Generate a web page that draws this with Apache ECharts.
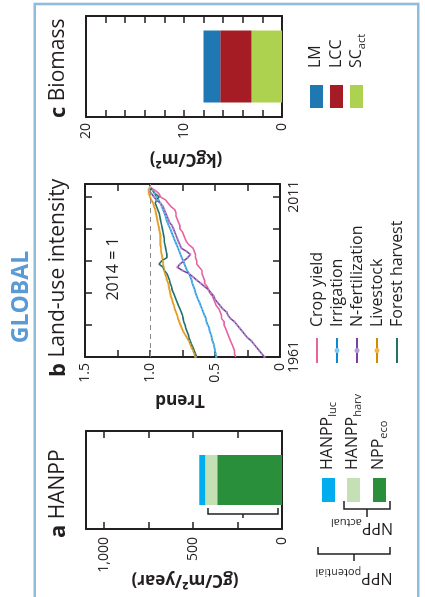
<!DOCTYPE html>
<html lang="en">
<head>
<meta charset="utf-8">
<script src="https://cdn.jsdelivr.net/npm/echarts@6/dist/echarts.min.js"></script>
<style>
    html, body { margin: 0; padding: 0; background: #fff; }
    body { width: 425px; height: 597px; overflow: hidden; position: relative; }
    /* the figure is laid out upright (597 x 425) and then turned a quarter to the left */
    #wrap {
        position: absolute; left: 0; top: 0;
        width: 597px; height: 425px;
        transform-origin: 0 0;
        transform: translate(0, 597px) rotate(-90deg);
    }
</style>
</head>
<body>
<div id="wrap"></div>
<script>
    // ---- panel a: HANPP (gC/m2/year)
    var hanppCats = ['Global'];
    var nppEco = [364];
    var hanppHarv = [67];
    var hanppLuc = [34];
    var hanppTickVals = [0, 500, 1000];
    var hanppTickText = ['0', '500', '1,000'];

    // ---- panel b: land-use intensity trend, 2014 = 1
    var years = [1961, 1962, 1963, 1964, 1965, 1966, 1967, 1968, 1969, 1970,
        1971, 1972, 1973, 1974, 1975, 1976, 1977, 1978, 1979, 1980,
        1981, 1982, 1983, 1984, 1985, 1986, 1987, 1988, 1989, 1990,
        1991, 1992, 1993, 1994, 1995, 1996, 1997, 1998, 1999, 2000,
        2001, 2002, 2003, 2004, 2005, 2006, 2007, 2008, 2009, 2010,
        2011, 2012, 2013, 2014];
    var cropYield = [0.34, 0.35, 0.35, 0.36, 0.37, 0.38, 0.39, 0.40, 0.41, 0.42,
        0.43, 0.43, 0.45, 0.45, 0.46, 0.47, 0.49, 0.50, 0.51, 0.52,
        0.54, 0.55, 0.56, 0.58, 0.58, 0.59, 0.60, 0.60, 0.62, 0.64,
        0.64, 0.65, 0.65, 0.66, 0.67, 0.70, 0.72, 0.73, 0.74, 0.75,
        0.77, 0.77, 0.78, 0.79, 0.80, 0.80, 0.81, 0.84, 0.86, 0.88,
        0.92, 0.93, 0.96, 1.00];
    var irrigation = [0.49, 0.495, 0.50, 0.505, 0.51, 0.52, 0.525, 0.53, 0.54, 0.545,
        0.555, 0.565, 0.57, 0.58, 0.59, 0.60, 0.61, 0.62, 0.63, 0.64,
        0.65, 0.655, 0.665, 0.675, 0.68, 0.69, 0.70, 0.715, 0.725, 0.735,
        0.745, 0.755, 0.765, 0.775, 0.785, 0.795, 0.805, 0.815, 0.825, 0.835,
        0.845, 0.855, 0.865, 0.875, 0.88, 0.89, 0.90, 0.91, 0.92, 0.935,
        0.95, 0.965, 0.98, 1.00];
    var nFertilization = [0.12, 0.14, 0.16, 0.18, 0.20, 0.22, 0.25, 0.27, 0.29, 0.31,
        0.33, 0.35, 0.38, 0.40, 0.41, 0.44, 0.46, 0.48, 0.50, 0.51,
        0.53, 0.55, 0.58, 0.61, 0.64, 0.67, 0.70, 0.75, 0.79, 0.77,
        0.74, 0.71, 0.69, 0.72, 0.76, 0.77, 0.78, 0.79, 0.80, 0.81,
        0.82, 0.83, 0.85, 0.86, 0.87, 0.88, 0.89, 0.90, 0.92, 0.95,
        0.97, 0.99, 1.01, 1.00];
    var livestock = [0.65, 0.66, 0.67, 0.68, 0.69, 0.70, 0.715, 0.73, 0.745, 0.755,
        0.765, 0.775, 0.785, 0.79, 0.80, 0.81, 0.815, 0.825, 0.83, 0.84,
        0.845, 0.85, 0.855, 0.86, 0.87, 0.875, 0.885, 0.89, 0.895, 0.90,
        0.90, 0.905, 0.91, 0.915, 0.915, 0.92, 0.92, 0.92, 0.92, 0.925,
        0.93, 0.935, 0.94, 0.945, 0.95, 0.955, 0.96, 0.97, 0.975, 0.99,
        1.00, 1.01, 1.01, 1.00];
    var forestHarvest = [0.64, 0.65, 0.66, 0.67, 0.68, 0.69, 0.70, 0.705, 0.715, 0.725,
        0.73, 0.74, 0.745, 0.75, 0.76, 0.77, 0.78, 0.79, 0.80, 0.81,
        0.82, 0.83, 0.835, 0.845, 0.85, 0.86, 0.87, 0.89, 0.90, 0.93,
        0.91, 0.87, 0.87, 0.875, 0.88, 0.885, 0.89, 0.89, 0.895, 0.90,
        0.905, 0.91, 0.915, 0.92, 0.925, 0.93, 0.94, 0.95, 0.96, 0.95,
        0.93, 0.96, 0.98, 1.00];
    var yearTickLabels = [1961, 2011];

    // ---- panel c: biomass (kgC/m2)
    var biomassCats = ['Global'];
    var scAct = [3.1];
    var lcc = [3.2];
    var lm = [1.7];
    var biomassTickVals = [0, 10, 20];

    var FONT = "'Open Sans', 'DejaVu Sans', sans-serif";
    var INK = '#231f20';

    function pairs(ys) {
        return years.map(function (y, i) { return [y, ys[i]]; });
    }
    function edge() {
        return { show: true, onZero: false, lineStyle: { color: INK, width: 2 } };
    }
    function ticksIn(show) {
        return { show: show, inside: true, length: 7, lineStyle: { color: INK, width: 1.5 } };
    }
    function tickLabel(fmt, margin) {
        return { show: !!fmt, formatter: fmt, margin: margin, color: INK, fontSize: 14,
            fontFamily: FONT, showMinLabel: true, showMaxLabel: true };
    }
    function catAxis(grid, pos, cats) {
        return { type: 'category', gridIndex: grid, position: pos, data: cats,
            axisLine: edge(), axisTick: { show: false }, axisLabel: { show: false } };
    }

    var myChart = echarts.init(document.getElementById('wrap'));

    var lineDefs = [
        { name: 'Crop yield', data: cropYield, color: '#e8629f', dot: null },
        { name: 'Irrigation', data: irrigation, color: '#1386d0', dot: '#7ccbf1' },
        { name: 'N-fertilization', data: nFertilization, color: '#7b3fa1', dot: '#b79bd3' },
        { name: 'Livestock', data: livestock, color: '#d68a00', dot: '#f2b54c' },
        { name: 'Forest harvest', data: forestHarvest, color: '#24716c', dot: null }
    ];

    var series = [
        { name: 'NPPeco', type: 'bar', stack: 'a', xAxisIndex: 0, yAxisIndex: 0, barWidth: 50,
            data: nppEco, itemStyle: { color: '#298f3a' }, silent: true },
        { name: 'HANPPharv', type: 'bar', stack: 'a', xAxisIndex: 0, yAxisIndex: 0, barWidth: 50,
            data: hanppHarv, itemStyle: { color: '#c5e0b4' }, silent: true },
        { name: 'HANPPluc', type: 'bar', stack: 'a', xAxisIndex: 0, yAxisIndex: 0, barWidth: 50,
            data: hanppLuc, itemStyle: { color: '#00aeef' }, silent: true },
        { name: 'SCact', type: 'bar', stack: 'c', xAxisIndex: 4, yAxisIndex: 4, barWidth: 72,
            data: scAct, itemStyle: { color: '#add24f' }, silent: true },
        { name: 'LCC', type: 'bar', stack: 'c', xAxisIndex: 4, yAxisIndex: 4, barWidth: 72,
            data: lcc, itemStyle: { color: '#a51c24' }, silent: true },
        { name: 'LM', type: 'bar', stack: 'c', xAxisIndex: 4, yAxisIndex: 4, barWidth: 72,
            data: lm, itemStyle: { color: '#1f78b4' }, silent: true }
    ];
    lineDefs.forEach(function (d, i) {
        series.push({
            name: d.name, type: 'line', xAxisIndex: 2, yAxisIndex: 2,
            data: pairs(d.data),
            showSymbol: !!d.dot, symbol: 'circle', symbolSize: 2.5,
            itemStyle: { color: d.dot || d.color, opacity: 0.7 },
            lineStyle: { color: d.color, width: 1.6 },
            silent: true,
            markLine: i === 0 ? {
                silent: true, symbol: 'none', label: { show: false },
                lineStyle: { color: '#8a8a8a', type: [5, 4], width: 1 },
                data: [{ yAxis: 1 }]
            } : undefined
        });
    });

    var option = {
        animation: false,
        textStyle: { fontFamily: FONT },
        grid: [
            { left: 68, top: 86, width: 98, height: 196, outerBoundsMode: 'none' },
            { left: 240, top: 85, width: 173, height: 195, outerBoundsMode: 'none' },
            { left: 480, top: 86, width: 101, height: 196, outerBoundsMode: 'none' }
        ],
        xAxis: [
            catAxis(0, 'bottom', hanppCats),
            catAxis(0, 'top', hanppCats),
            { type: 'value', gridIndex: 1, position: 'bottom', min: 1961, max: 2015, interval: 10,
                axisLine: edge(), axisTick: ticksIn(true), splitLine: { show: false },
                axisLabel: tickLabel(function (v) {
                    return yearTickLabels.indexOf(v) >= 0 ? String(v) : '';
                }, 7) },
            { type: 'value', gridIndex: 1, position: 'top', min: 1961, max: 2015, interval: 10,
                axisLine: edge(), axisTick: ticksIn(true), splitLine: { show: false },
                axisLabel: { show: false } },
            catAxis(2, 'bottom', biomassCats),
            catAxis(2, 'top', biomassCats)
        ],
        yAxis: [
            { type: 'value', gridIndex: 0, position: 'left', min: 0, max: 1100, interval: 250,
                axisLine: edge(), axisTick: ticksIn(true), splitLine: { show: false },
                axisLabel: tickLabel(function (v) {
                    var k = hanppTickVals.indexOf(v);
                    return k >= 0 ? hanppTickText[k] : '';
                }, 8) },
            { type: 'value', gridIndex: 0, position: 'right', min: 0, max: 1100, interval: 250,
                axisLine: edge(), axisTick: ticksIn(true), splitLine: { show: false },
                axisLabel: { show: false } },
            { type: 'value', gridIndex: 1, position: 'left', min: 0, max: 1.5, interval: 0.25,
                axisLine: edge(), axisTick: ticksIn(true), splitLine: { show: false },
                axisLabel: tickLabel(function (v) {
                    if (Math.abs(v * 2 - Math.round(v * 2)) > 1e-6) return '';
                    return v === 0 ? '0' : v.toFixed(1);
                }, 6) },
            { type: 'value', gridIndex: 1, position: 'right', min: 0, max: 1.5, interval: 0.25,
                axisLine: edge(), axisTick: ticksIn(true), splitLine: { show: false },
                axisLabel: { show: false } },
            { type: 'value', gridIndex: 2, position: 'left', min: 0, max: 20, interval: 2,
                axisLine: edge(), axisTick: ticksIn(true), splitLine: { show: false },
                axisLabel: tickLabel(function (v) {
                    return biomassTickVals.indexOf(v) >= 0 ? String(v) : '';
                }, 6) },
            { type: 'value', gridIndex: 2, position: 'right', min: 0, max: 20, interval: 2,
                axisLine: edge(), axisTick: ticksIn(true), splitLine: { show: false },
                axisLabel: { show: false } }
        ],
        series: series
    };
    myChart.setOption(option);

    // ---- annotations: frame, titles, axis names, legends, brackets
    function txt(x, y, text, size, opts) {
        opts = opts || {};
        return {
            type: 'text', x: x, y: y, rotation: opts.rot || 0, silent: true,
            style: {
                text: text, x: 0, y: 0, fill: opts.fill || INK,
                fontSize: size, fontFamily: FONT, fontWeight: opts.bold ? 'bold' : 'normal',
                align: opts.align || 'left', verticalAlign: 'middle',
                rich: opts.rich
            }
        };
    }
    function sub(mainSize) {
        return {
            m: { fontSize: mainSize, fontFamily: FONT, fill: INK, lineHeight: 22 },
            s: { fontSize: 11, fontFamily: FONT, fill: INK, lineHeight: 22, padding: [11, 0, 0, 0] }
        };
    }
    function path(points, w) {
        return { type: 'polyline', silent: true, shape: { points: points },
            style: { stroke: INK, lineWidth: w || 1.5, fill: null } };
    }
    function rect(x, y, w, h, color) {
        return { type: 'rect', silent: true, shape: { x: x, y: y, width: w, height: h },
            style: { fill: color } };
    }
    var titleRich = {
        b: { fontSize: 22, fontWeight: 'bold', fontFamily: FONT, fill: INK },
        n: { fontSize: 21, fontFamily: FONT, fill: INK }
    };

    // bracket over NPP actual inside panel a, placed from the data
    var barU = myChart.convertToPixel({ xAxisIndex: 0 }, hanppCats[0]);
    var actTop = myChart.convertToPixel({ yAxisIndex: 0 }, nppEco[0] + hanppHarv[0] - 15);
    var actBot = myChart.convertToPixel({ yAxisIndex: 0 }, 22);
    var bu = barU - 34;

    var g = [
        { type: 'rect', silent: true, shape: { x: -10, y: 34.7, width: 603, height: 383.6 },
            style: { fill: null, stroke: '#8fbcdd', lineWidth: 2.6 } },
        txt(300, 21, 'GLOBAL', 23, { bold: true, fill: '#5b9bd5', align: 'center' }),

        txt(59, 58.5, '{b|a} {n|HANPP}', 21, { rich: titleRich }),
        txt(220, 58.5, '{b|b} {n|Land-use intensity}', 21, { rich: titleRich }),
        txt(479, 58.5, '{b|c} {n|Biomass}', 21, { rich: titleRich }),

        txt(17, 185, '(gC/m²/year)', 17, { bold: true, align: 'center', rot: Math.PI / 2 }),
        txt(197, 180, 'Trend', 17, { bold: true, align: 'center', rot: Math.PI / 2 }),
        txt(438, 186, '(kgC/m²)', 17, { bold: true, align: 'center', rot: Math.PI / 2 }),

        txt(328, 113.5, '2014 = 1', 16, { align: 'center' }),

        path([[bu + 6, actTop], [bu, actTop], [bu, actBot], [bu + 6, actBot]]),
        path([[bu, (actTop + actBot) / 2], [bu - 4, (actTop + actBot) / 2]]),

        // legend a
        rect(95, 322, 24, 13, '#00aeef'),
        rect(95, 347, 24, 13, '#c5e0b4'),
        rect(95, 373, 24, 13, '#298f3a'),
        txt(127, 327, '{m|HANPP}{s|luc}', 16, { rich: sub(16) }),
        txt(127, 352, '{m|HANPP}{s|harv}', 16, { rich: sub(16) }),
        txt(127, 378, '{m|NPP}{s|eco}', 16, { rich: sub(16) }),
        path([[96, 344], [88, 344], [88, 390], [96, 390]]),
        path([[88, 367], [80, 367]]),
        txt(69, 362, '{m|NPP}{s|actual}', 16, { align: 'center', rot: Math.PI / 2, rich: sub(16) }),
        path([[50, 318], [43, 318], [43, 390], [50, 390]]),
        path([[43, 354], [36, 354]]),
        txt(19, 354, '{m|NPP}{s|potential}', 16, { align: 'center', rot: Math.PI / 2, rich: sub(16) }),

        // legend c
        rect(489, 310, 23, 13, '#1f78b4'),
        rect(489, 330, 23, 13, '#a51c24'),
        rect(489, 350, 23, 13, '#add24f'),
        txt(529, 315.5, 'LM', 16),
        txt(529, 336, 'LCC', 16),
        txt(529, 356, '{m|SC}{s|act}', 16, { rich: sub(16) })
    ];

    // legend b
    lineDefs.forEach(function (d, i) {
        var v = 317 + i * 20;
        g.push({ type: 'line', silent: true, shape: { x1: 234, y1: v, x2: 259, y2: v },
            style: { stroke: d.color, lineWidth: 2 } });
        if (d.dot) {
            g.push({ type: 'circle', silent: true, shape: { cx: 246.5, cy: v, r: 2.5 },
                style: { fill: d.dot } });
        }
        g.push(txt(270, v, d.name, 16));
    });

    myChart.setOption({ graphic: g });
</script>
</body>
</html>
